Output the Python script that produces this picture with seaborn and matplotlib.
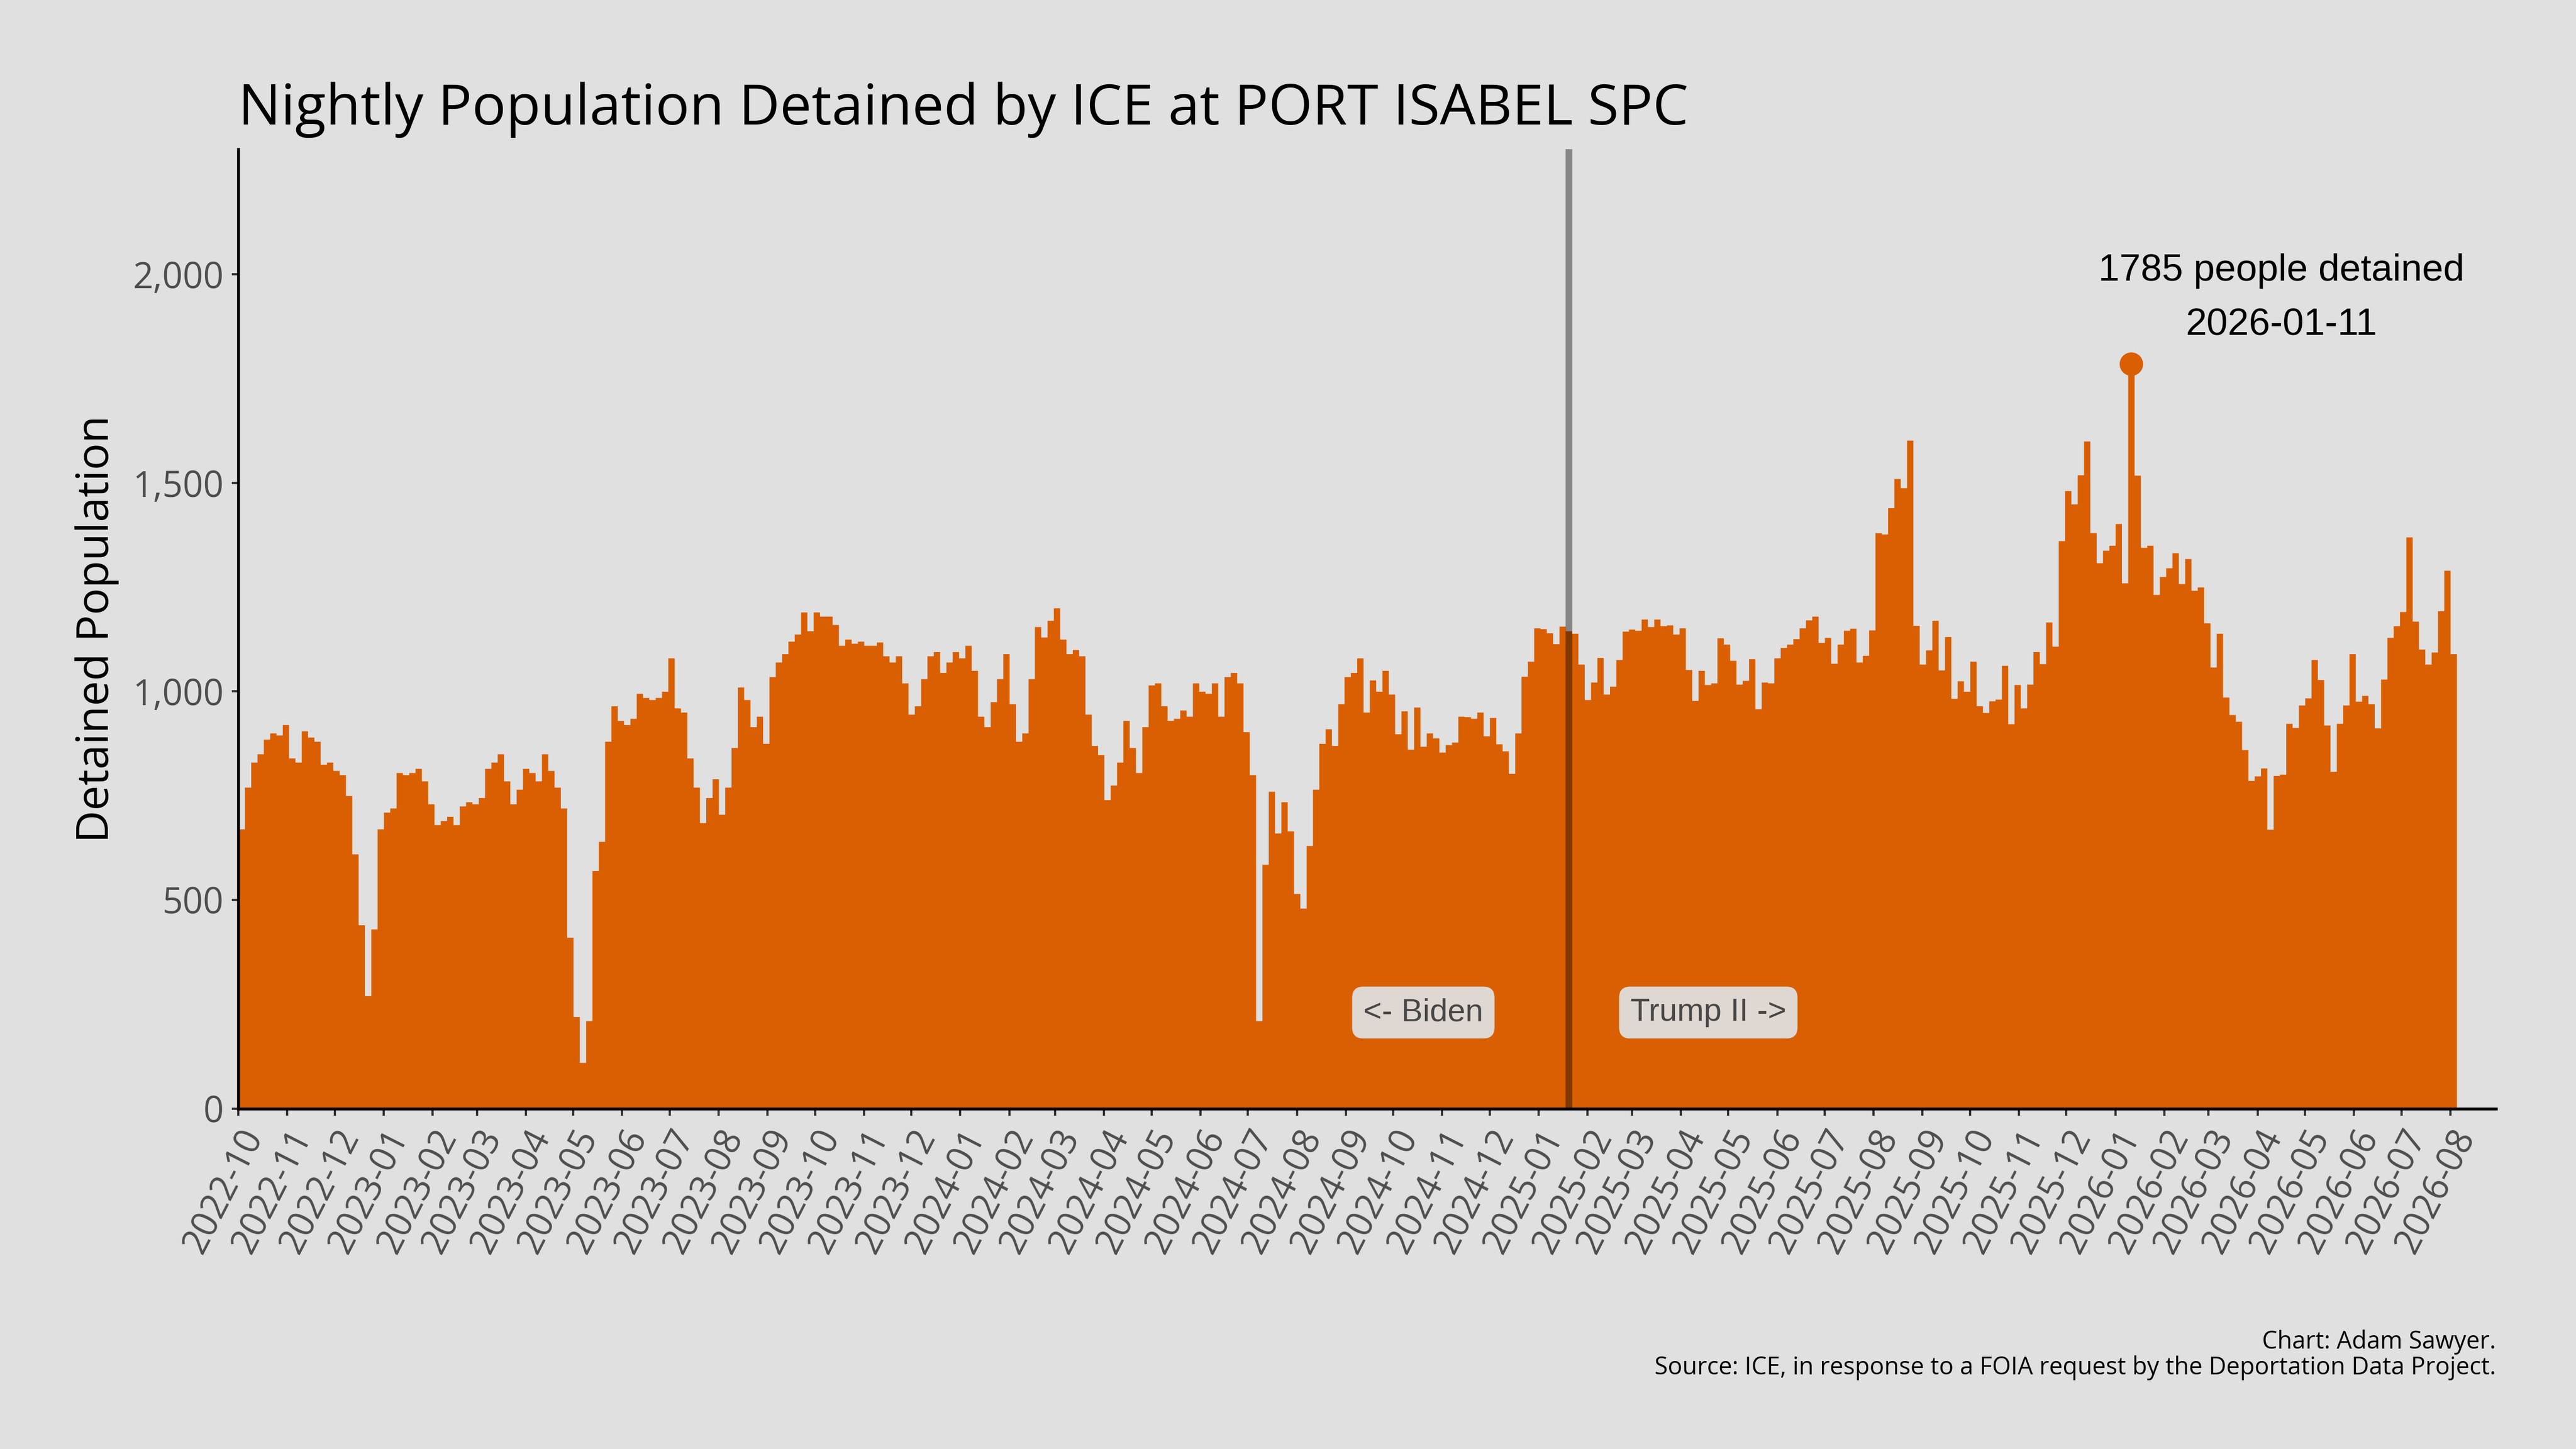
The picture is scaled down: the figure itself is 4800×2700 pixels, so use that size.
import numpy as np
import pandas as pd
import matplotlib
matplotlib.use("Agg")
import matplotlib.pyplot as plt
import matplotlib.dates as mdates
import seaborn as sns

# nightly population in 4-day steps starting 2022-10-01
start_date = "2022-10-01"
step_days = 4
counts = [
    670, 770, 830, 850, 885, 900, 895, 920, 840, 830,
    905, 890, 880, 825, 830, 810, 800, 750, 610, 440,
    270, 430, 670, 710, 720, 805, 800, 805, 815, 785,
    730, 680, 690, 700, 680, 725, 735, 730, 745, 815,
    830, 850, 785, 730, 765, 815, 805, 785, 850, 810,
    770, 720, 410, 220, 110, 210, 570, 640, 880,
    965, 930, 920, 935, 995, 985, 980, 985, 1000, 1080,
    960, 950, 840, 770, 685, 745, 790, 705, 770, 865,
    1010, 980, 915, 940, 875, 1035, 1070, 1090, 1120, 1137,
    1190, 1145, 1190, 1180, 1180, 1160, 1110, 1125, 1115, 1120,
    1110, 1110, 1118, 1085, 1070, 1085, 1020, 945, 965, 1030,
    1085, 1095, 1045, 1070, 1095, 1080, 1110, 1050,
    940, 915, 975, 1030, 1090, 970, 880, 900, 1030, 1155,
    1130, 1170, 1200, 1125, 1090, 1100, 1085, 945, 870, 848,
    740, 775, 830, 930, 865, 805, 915, 1015, 1020, 965,
    930, 935, 955, 940, 1020, 1000, 995, 1020, 940, 1035,
    1045, 1020, 903, 800, 210, 585, 760, 660, 735, 665,
    515, 480, 630, 765, 875, 910, 870, 970, 1035,
    1045, 1080, 950, 1027, 1000, 1050, 993, 898, 953, 861,
    962, 868, 900, 888, 854, 872, 878, 940, 939, 935,
    950, 893, 937, 874, 857, 803, 900, 1036, 1072, 1152,
    1150, 1140, 1114, 1156, 1145, 1139, 1065, 980, 1022, 1081,
    993, 1012, 1076, 1144, 1149, 1146, 1173, 1155, 1173, 1157,
    1159, 1137, 1152, 1052, 978, 1050, 1016, 1020,
    1128, 1113, 1074, 1017, 1026, 1078, 958, 1022, 1020, 1080,
    1105, 1113, 1126, 1152, 1171, 1180, 1117, 1129, 1067, 1113,
    1146, 1151, 1070, 1086, 1147, 1380, 1377, 1440, 1510, 1488,
    1602, 1158, 1065, 1099, 1170, 1051, 1131, 983, 1025, 1000,
    1072, 965, 949, 977, 981, 1062, 922, 1016, 960, 1017,
    1095, 1066, 1166, 1108, 1361, 1481, 1449, 1519, 1600,
    1380, 1308, 1338, 1350, 1402, 1260, 1785, 1518, 1345, 1350,
    1232, 1275, 1296, 1332, 1258, 1318, 1242, 1250, 1164, 1058,
    1139, 986, 944, 928, 860, 786, 797, 816, 669, 798,
    801, 923, 913, 967, 984, 1076, 1028, 919, 808, 923,
    967, 1090, 976, 990, 970, 912, 1029, 1129, 1157, 1191,
    1370, 1168, 1101, 1065, 1094, 1193, 1290, 1090,
]
peak_date = "2026-01-11"
peak_value = 1785
inauguration = "2025-01-20"
axis_end = "2026-08-30"

orange = "#d95f02"
bg = "#e0e0e0"

sns.set_theme(style="ticks", rc={"axes.facecolor": bg, "figure.facecolor": bg})
plt.rcParams["font.family"] = ["Open Sans", "DejaVu Sans"]
arial = ["Liberation Sans", "DejaVu Sans"]

dates = pd.date_range(start_date, periods=len(counts) + 1, freq=f"{step_days}D")
edges = mdates.date2num(dates)
df = pd.DataFrame({"day": edges[:-1] + step_days / 2, "count": counts})

fig, ax = plt.subplots(figsize=(16, 9), dpi=300)
fig.subplots_adjust(left=0.0925, right=0.969, bottom=0.235, top=0.897)

sns.histplot(data=df, x="day", weights="count", bins=list(edges), element="step",
             fill=True, color=orange, alpha=1, linewidth=0, ax=ax)

peak_x = mdates.date2num(pd.Timestamp(peak_date))
sns.scatterplot(x=[peak_x], y=[peak_value], s=110, color=orange, linewidth=0,
                ax=ax, zorder=4)
ax.text(peak_x + 95, 1943, f"{peak_value} people detained\n{peak_date}",
        ha="center", va="center", fontsize=17, linespacing=1.7,
        family=arial, color="black")

inaug_x = mdates.date2num(pd.Timestamp(inauguration))
ax.axvline(inaug_x, color="black", alpha=0.4, lw=3, zorder=3)
box = dict(boxstyle="round,pad=0.35", facecolor="#dfd8d2", edgecolor="none")
ax.text(inaug_x - 54, 230, "<- Biden", ha="right", va="center", fontsize=14.3,
        color="#474747", family=arial, bbox=box)
ax.text(inaug_x + 39, 230, "Trump II ->", ha="left", va="center", fontsize=14.3,
        color="#474747", family=arial, bbox=box)

ax.set_xlim(edges[0], mdates.date2num(pd.Timestamp(axis_end)))
ax.set_ylim(0, 2300)
ax.set_yticks([0, 500, 1000, 1500, 2000])
ax.yaxis.set_major_formatter(matplotlib.ticker.StrMethodFormatter("{x:,.0f}"))
ax.xaxis.set_major_locator(mdates.MonthLocator())
ax.xaxis.set_major_formatter(mdates.DateFormatter("%Y-%m"))
ax.tick_params(axis="both", labelsize=16, labelcolor="#4d4d4d", color="#333333",
               length=3, width=1)
plt.setp(ax.get_xticklabels(), rotation=63, ha="right", va="top",
         rotation_mode="anchor")

ax.set_xlabel("")
ax.set_ylabel("Detained Population", fontsize=20, color="black", labelpad=6)
ax.set_title("Nightly Population Detained by ICE at PORT ISABEL SPC",
             loc="left", fontsize=25.3, pad=11, color="black")
for side in ["top", "right"]:
    ax.spines[side].set_visible(False)
for side in ["left", "bottom"]:
    ax.spines[side].set_color("black")
    ax.spines[side].set_linewidth(1.3)

fig.text(0.969, 0.065, "Chart: Adam Sawyer.\nSource: ICE, in response to a FOIA "
         "request by the Deportation Data Project.", ha="right", va="center",
         fontsize=10.8, color="black", linespacing=1.05)

fig.savefig("out.png", dpi=300, facecolor=bg)
